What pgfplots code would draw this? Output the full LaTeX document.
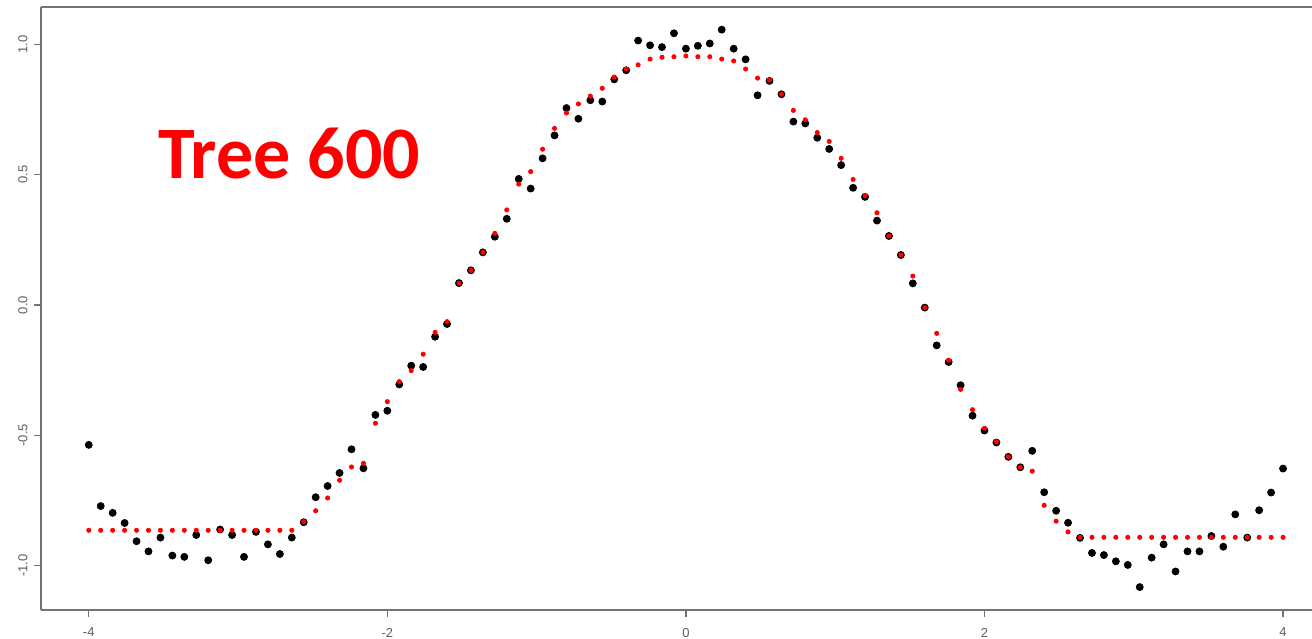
\documentclass[border=0pt]{standalone}
\usepackage{pgfplots}
\pgfplotsset{compat=1.18}
\usepackage{pgfplotstable}
\usepackage{fontspec}
\setmainfont{Liberation Sans}
\newfontfamily\titlefont{Carlito}
\definecolor{axisgray}{RGB}{115,115,115}
\definecolor{labelgray}{RGB}{95,95,95}

% x, observed response (b), tree-ensemble prediction (r)
\pgfplotstableread{
x b r
-4.00 -0.537 -0.865
-3.92 -0.772 -0.865
-3.84 -0.798 -0.865
-3.76 -0.837 -0.865
-3.68 -0.907 -0.865
-3.60 -0.946 -0.865
-3.52 -0.893 -0.865
-3.44 -0.962 -0.865
-3.36 -0.967 -0.865
-3.28 -0.883 -0.865
-3.20 -0.980 -0.865
-3.12 -0.862 -0.865
-3.04 -0.883 -0.865
-2.96 -0.967 -0.865
-2.88 -0.871 -0.865
-2.80 -0.919 -0.865
-2.72 -0.956 -0.865
-2.64 -0.893 -0.865
-2.56 -0.834 -0.832
-2.48 -0.738 -0.790
-2.40 -0.695 -0.741
-2.32 -0.645 -0.673
-2.24 -0.554 -0.622
-2.16 -0.627 -0.608
-2.08 -0.422 -0.454
-2.00 -0.406 -0.371
-1.92 -0.305 -0.294
-1.84 -0.233 -0.252
-1.76 -0.238 -0.189
-1.68 -0.122 -0.105
-1.60 -0.073 -0.064
-1.52 0.084 0.084
-1.44 0.133 0.133
-1.36 0.202 0.202
-1.28 0.262 0.275
-1.20 0.331 0.365
-1.12 0.484 0.464
-1.04 0.447 0.512
-0.96 0.563 0.598
-0.88 0.651 0.678
-0.80 0.756 0.737
-0.72 0.715 0.772
-0.64 0.786 0.802
-0.56 0.781 0.832
-0.48 0.866 0.875
-0.40 0.901 0.906
-0.32 1.015 0.922
-0.24 0.997 0.944
-0.16 0.990 0.951
-0.08 1.043 0.953
0.00 0.984 0.956
0.08 0.995 0.953
0.16 1.004 0.953
0.24 1.057 0.944
0.32 0.984 0.937
0.40 0.943 0.906
0.48 0.805 0.871
0.56 0.860 0.864
0.64 0.809 0.809
0.72 0.704 0.747
0.80 0.697 0.711
0.88 0.642 0.662
0.96 0.599 0.628
1.04 0.537 0.563
1.12 0.450 0.482
1.20 0.415 0.420
1.28 0.324 0.354
1.36 0.265 0.265
1.44 0.192 0.192
1.52 0.083 0.111
1.60 -0.010 -0.010
1.68 -0.155 -0.109
1.76 -0.219 -0.212
1.84 -0.308 -0.324
1.92 -0.425 -0.402
2.00 -0.482 -0.473
2.08 -0.528 -0.525
2.16 -0.583 -0.583
2.24 -0.623 -0.623
2.32 -0.560 -0.638
2.40 -0.719 -0.769
2.48 -0.790 -0.830
2.56 -0.836 -0.871
2.64 -0.894 -0.892
2.72 -0.952 -0.892
2.80 -0.960 -0.892
2.88 -0.984 -0.892
2.96 -0.998 -0.892
3.04 -1.083 -0.892
3.12 -0.970 -0.892
3.20 -0.919 -0.892
3.28 -1.023 -0.892
3.36 -0.946 -0.892
3.44 -0.946 -0.892
3.52 -0.887 -0.892
3.60 -0.928 -0.892
3.68 -0.804 -0.892
3.76 -0.893 -0.892
3.84 -0.788 -0.892
3.92 -0.720 -0.892
4.00 -0.628 -0.892
}\fitdata

\begin{document}
\begin{tikzpicture}
\begin{axis}[
  name=ax,
  scale only axis,
  width=635.5pt, height=301.5pt,
  xmin=-4.32, xmax=4.194,
  ymin=-1.171, ymax=1.144,
  axis x line*=bottom,
  axis y line*=left,
  axis line style={axisgray, line width=0.6pt},
  tick style={axisgray, line width=0.6pt},
  tick align=outside,
  major tick length=3.25pt,
  xtick={-4,-2,0,2,4},
  xticklabels={-4,-2,0,2,4},
  ytick={-1,-0.5,0,0.5,1},
  yticklabels={-1.0,-0.5,0.0,0.5,1.0},
  ticklabel style={font=\fontsize{6.5}{7.5}\selectfont, text=labelgray},
  xticklabel style={yshift=-2.2pt},
  yticklabel style={rotate=90, anchor=south},
  clip=false,
]
\draw[axisgray, line width=0.7pt] (rel axis cs:0,1) -- (rel axis cs:1,1);
\addplot[only marks, mark=*, mark size=1.75pt, mark options={fill=black, draw=black}]
  table[x=x, y=b] {\fitdata};
\addplot[only marks, mark=*, mark size=1.05pt, mark options={fill=red, draw=red}]
  table[x=x, y=r] {\fitdata};
\node[anchor=base west, inner sep=0pt, text=red,
      font=\titlefont\bfseries\fontsize{37}{41}\selectfont]
  at (axis cs:-3.538,0.4875) {Tree 600};
\end{axis}
\pgfresetboundingbox
\path[use as bounding box] ([xshift=-20.5pt,yshift=-14pt]ax.south west)
  rectangle ([yshift=3.5pt]ax.north east);
\end{tikzpicture}
\end{document}
